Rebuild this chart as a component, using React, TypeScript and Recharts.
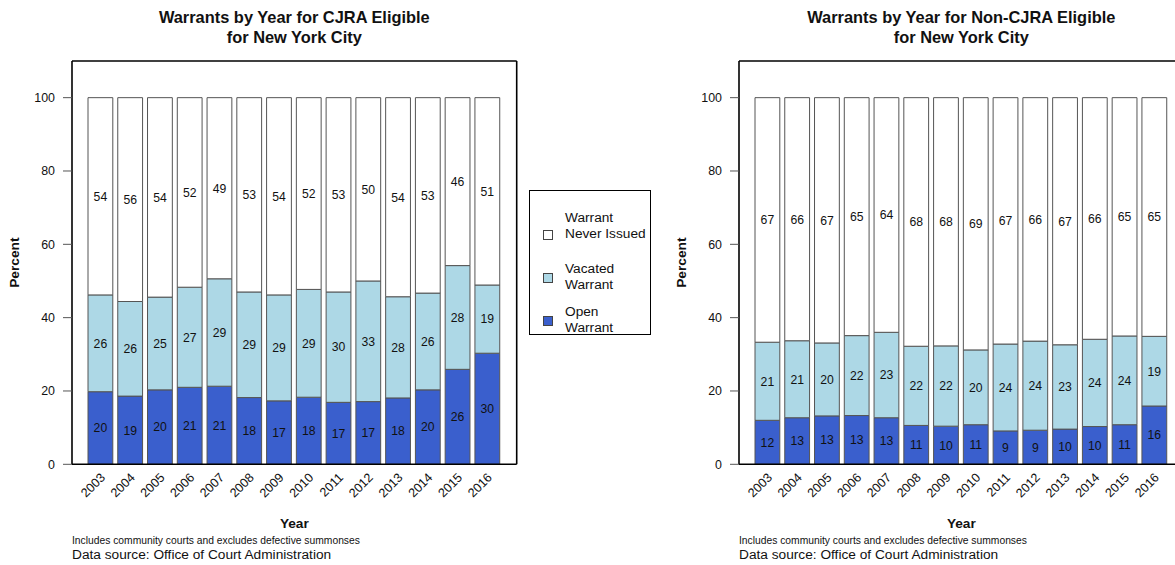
import React from 'react';
import { BarChart, Bar, XAxis, YAxis, LabelList, Legend, Label } from 'recharts';

const YEARS = ['2003', '2004', '2005', '2006', '2007', '2008', '2009', '2010', '2011', '2012', '2013', '2014', '2015', '2016'];
const Y_TICKS = [0, 20, 40, 60, 80, 100];

// CJRA eligible, percent of cases
const CJRA_OPEN = [19.8, 18.6, 20.3, 21.0, 21.3, 18.2, 17.3, 18.3, 16.9, 17.1, 18.1, 20.3, 25.9, 30.3];
const CJRA_VACATED = [26.4, 25.8, 25.3, 27.3, 29.3, 28.8, 28.9, 29.4, 30.1, 32.9, 27.6, 26.4, 28.3, 18.6];
const CJRA_NEVER = [53.8, 55.6, 54.4, 51.7, 49.4, 53.0, 53.8, 52.3, 53.0, 50.0, 54.3, 53.3, 45.8, 51.1];

// Non-CJRA eligible
const NON_OPEN = [12.0, 12.7, 13.2, 13.3, 12.7, 10.6, 10.4, 10.8, 9.1, 9.3, 9.6, 10.3, 10.8, 15.9];
const NON_VACATED = [21.3, 21.0, 19.9, 21.8, 23.3, 21.6, 21.9, 20.4, 23.7, 24.3, 23.0, 23.8, 24.2, 19.0];
const NON_NEVER = [66.7, 66.3, 66.9, 64.9, 64.0, 67.8, 67.7, 68.8, 67.2, 66.4, 67.4, 65.9, 65.0, 65.1];

const SERIES = [
  { key: 'open', lines: ['Open', 'Warrant'], color: '#3A5FCD' },
  { key: 'vacated', lines: ['Vacated', 'Warrant'], color: '#ADD8E6' },
  { key: 'never', lines: ['Warrant', 'Never Issued'], color: '#FFFFFF' },
];

const FONT = '"Liberation Sans", Arial, Helvetica, sans-serif';
const PANEL_W = 667;
const PANEL_H = 565;
const BOX_CENTER = 294.3;
const BOX_LINE = { stroke: '#000', strokeWidth: 1.6 };

function buildRows(open: number[], vacated: number[], never: number[]) {
  return YEARS.map((year, i) => ({ year, open: open[i], vacated: vacated[i], never: never[i] }));
}

function YearTick(props: any) {
  const { x, y, payload } = props;
  const tx = x + 5;
  const ty = y + 14;
  return (
    <text x={tx} y={ty} textAnchor="end" fontSize={12.6} fill="#111" transform={`rotate(-45 ${tx} ${ty})`}>
      {payload.value}
    </text>
  );
}

// legend text in the original sits a bit high for the first entry
const LEGEND_TEXT_SHIFT = [-9, -0.6, -0.8];

function WarrantLegend() {
  const items = [...SERIES].reverse();
  return (
    <div style={{ position: 'relative', width: '100%', height: '100%', fontSize: 13.7, color: '#111' }}>
      {items.map((s, i) => {
        const sqTop = 39 + 43 * i;
        const mid = sqTop + 5 + LEGEND_TEXT_SHIFT[i];
        return (
          <React.Fragment key={s.key}>
            <div
              style={{
                position: 'absolute', left: 13, top: sqTop, width: 10, height: 10,
                background: s.color, border: '1px solid #444', boxSizing: 'border-box',
              }}
            />
            <div style={{ position: 'absolute', left: 35, top: mid - 16.5, lineHeight: '16.5px', whiteSpace: 'nowrap' }}>
              {s.lines.map((l) => (
                <div key={l}>{l}</div>
              ))}
            </div>
          </React.Fragment>
        );
      })}
    </div>
  );
}

function Panel({ left, title, rows, showLegend }: { left: number; title: string[]; rows: any[]; showLegend?: boolean }) {
  return (
    <div style={{ position: 'absolute', left, top: 0, width: PANEL_W, height: PANEL_H }}>
      <div
        style={{
          position: 'absolute', left: BOX_CENTER - 250, width: 500, top: 7, textAlign: 'center',
          fontWeight: 'bold', fontSize: 16.4, lineHeight: '20px', color: '#111',
        }}
      >
        {title.map((t) => (
          <div key={t}>{t}</div>
        ))}
      </div>
      <BarChart
        width={PANEL_W}
        height={PANEL_H}
        data={rows}
        margin={{ top: 60, right: 149.3, bottom: 70.7, left: 12 }}
        barSize={24.8}
      >
        <XAxis
          dataKey="year"
          height={30}
          interval={0}
          tickLine={false}
          tickSize={0}
          tickMargin={0}
          tick={<YearTick />}
          padding={{ left: 14, right: 14 }}
          axisLine={BOX_LINE}
        >
          <Label
            content={(p: any) => (
              <text
                x={p.viewBox.x + p.viewBox.width / 2}
                y={p.viewBox.y + 63.4}
                textAnchor="middle"
                fontWeight="bold"
                fontSize={13.7}
                fill="#111"
              >
                Year
              </text>
            )}
          />
        </XAxis>
        <XAxis
          xAxisId="top"
          orientation="top"
          dataKey="year"
          height={1}
          tick={false}
          tickLine={false}
          padding={{ left: 14, right: 14 }}
          axisLine={BOX_LINE}
        />
        <YAxis
          type="number"
          width={60}
          domain={[0, 110]}
          ticks={Y_TICKS}
          allowDataOverflow
          tickSize={9}
          tickMargin={8}
          tick={{ fontSize: 12.4, fill: '#111' }}
          tickLine={{ stroke: '#555' }}
          axisLine={BOX_LINE}
        >
          <Label
            content={(p: any) => {
              const cx = p.viewBox.x + 3;
              const cy = p.viewBox.y + p.viewBox.height / 2;
              return (
                <text
                  x={cx}
                  y={cy}
                  transform={`rotate(-90 ${cx} ${cy})`}
                  textAnchor="middle"
                  dominantBaseline="central"
                  fontWeight="bold"
                  fontSize={13.7}
                  fill="#111"
                >
                  Percent
                </text>
              );
            }}
          />
        </YAxis>
        <YAxis
          yAxisId="right"
          orientation="right"
          type="number"
          width={1}
          domain={[0, 110]}
          tick={false}
          tickLine={false}
          axisLine={BOX_LINE}
        />
        {SERIES.map((s) => (
          <Bar key={s.key} dataKey={s.key} stackId="w" fill={s.color} stroke="#555" strokeWidth={1} isAnimationActive={false}>
            <LabelList
              dataKey={s.key}
              position="center"
              formatter={(v: any) => Math.round(Number(v))}
              fill="#111"
              fontSize={12.2}
            />
          </Bar>
        ))}
        {showLegend && (
          <Legend
            layout="horizontal"
            verticalAlign="middle"
            align="center"
            content={() => <WarrantLegend />}
            wrapperStyle={{
              left: 529, top: 190, width: 122, height: 145, border: '1.5px solid #000',
              boxSizing: 'border-box', background: '#fff',
            }}
          />
        )}
      </BarChart>
      <div style={{ position: 'absolute', left: 72, top: 536.4, fontSize: 10.3, lineHeight: '10.3px', whiteSpace: 'nowrap', color: '#111' }}>
        Includes community courts and excludes defective summonses
      </div>
      <div style={{ position: 'absolute', left: 72, top: 548.4, fontSize: 13.7, lineHeight: '13.7px', whiteSpace: 'nowrap', color: '#111' }}>
        Data source: Office of Court Administration
      </div>
    </div>
  );
}

export default function App() {
  const cjra = buildRows(CJRA_OPEN, CJRA_VACATED, CJRA_NEVER);
  const nonCjra = buildRows(NON_OPEN, NON_VACATED, NON_NEVER);
  return (
    <div
      style={{
        position: 'absolute', left: 0, top: 0, width: 1175, height: 565, overflow: 'hidden',
        background: '#fff', fontFamily: FONT,
      }}
    >
      <Panel left={0} title={['Warrants by Year for CJRA Eligible', 'for New York City']} rows={cjra} showLegend />
      <Panel left={PANEL_W} title={['Warrants by Year for Non-CJRA Eligible', 'for New York City']} rows={nonCjra} />
    </div>
  );
}
